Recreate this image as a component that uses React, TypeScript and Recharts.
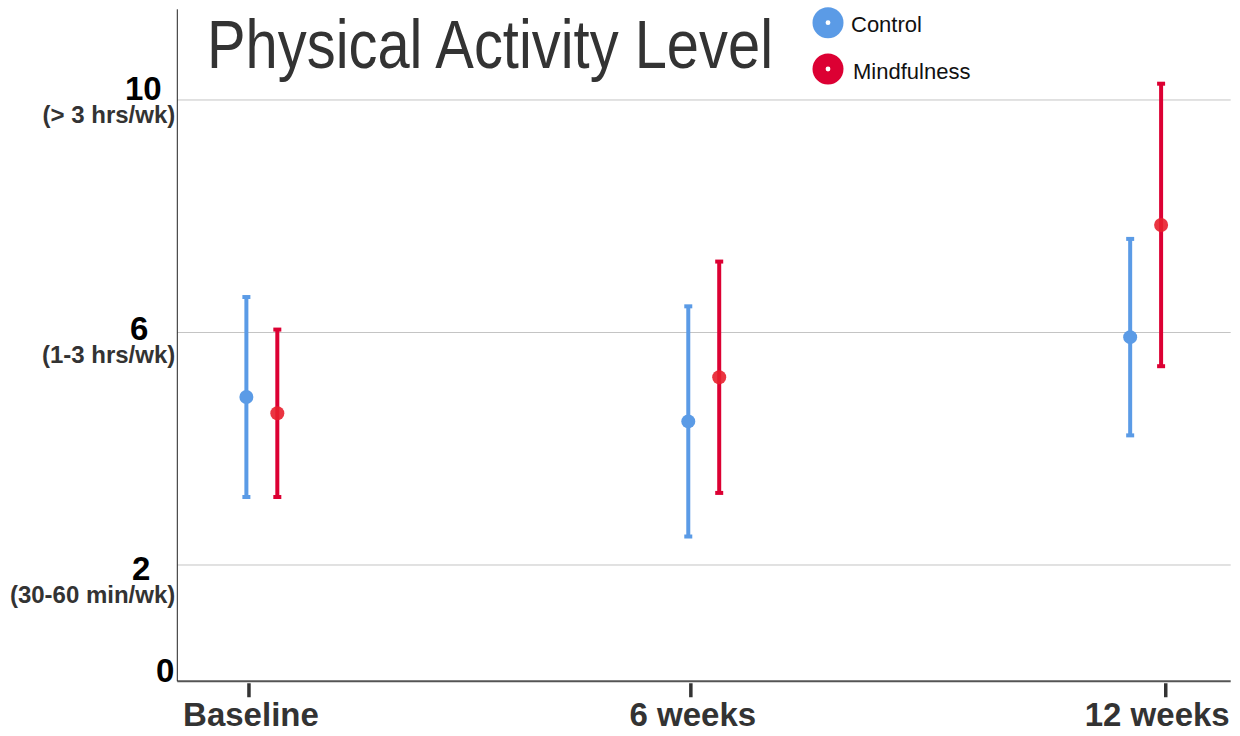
import React from 'react';
import { ScatterChart, Scatter, XAxis, YAxis, CartesianGrid, ErrorBar, Legend, Customized } from 'recharts';

// time points (weeks) and their axis labels
const weeks = [0, 6, 12];
const timeLabels = ['Baseline', '6 weeks', '12 weeks'];

// group means and 95% CI half-widths
const controlMean = [4.89, 4.47, 5.92];
const controlCI = [1.72, 1.98, 1.69];
const mindMean = [4.61, 5.23, 7.85];
const mindCI = [1.44, 1.99, 2.43];

// y axis ticks with their activity descriptions
const yTicks = [0, 2, 6, 10];
const yTickNotes = ['', '(30-60 min/wk)', '(1-3 hrs/wk)', '(> 3 hrs/wk)'];
const gridValues = [2, 6, 10];

const seriesNames = ['Control', 'Mindfulness'];

const BLUE = '#5b9be6';
const RED = '#dc0033';
const FONT = '"Liberation Sans", Arial, sans-serif';

// horizontal dodge so the two groups sit side by side
const CONTROL_DODGE = -0.035;
const MIND_DODGE = 0.385;

// label placement tweaks (px)
const Y_LABEL_NUDGE: Record<number, { dx: number; dy: number }> = {
  0: { dx: -12, dy: 0.5 },
  2: { dx: -36, dy: 15 },
  6: { dx: -38, dy: 8 },
  10: { dx: -34, dy: 0 },
};
const X_TICK_SHIFT = [0, 0, 33];
const X_LABEL_SHIFT = [2, 2, 24.5];

const controlData = weeks.map((w, i) => ({ x: w + CONTROL_DODGE, y: controlMean[i], ci: controlCI[i] }));
const mindData = weeks.map((w, i) => ({ x: w + MIND_DODGE, y: mindMean[i], ci: mindCI[i] }));

const YTick = (props: any) => {
  const { x, y, payload } = props;
  const i = yTicks.indexOf(payload.value);
  const n = Y_LABEL_NUDGE[payload.value] || { dx: -36, dy: 0 };
  return (
    <g>
      <text x={x + n.dx} y={y + n.dy} textAnchor="middle" fontFamily={FONT} fontWeight="bold" fontSize={33} fill="#000">
        {payload.value}
      </text>
      {yTickNotes[i] ? (
        <text x={x - 2} y={y + n.dy + 23} textAnchor="end" fontFamily={FONT} fontWeight="bold" fontSize={24} fill="#333">
          {yTickNotes[i]}
        </text>
      ) : null}
    </g>
  );
};

const XTick = (props: any) => {
  const { x, y, payload } = props;
  const i = weeks.indexOf(payload.value);
  const mx = x + X_TICK_SHIFT[i];
  return (
    <g>
      <line x1={mx} x2={mx} y1={y + 2} y2={y + 16} stroke="#333" strokeWidth={3.5} />
      <text x={x + X_LABEL_SHIFT[i]} y={y + 45} textAnchor="middle" fontFamily={FONT} fontWeight="bold" fontSize={33} fill="#333">
        {timeLabels[i]}
      </text>
    </g>
  );
};

const Dot = (color: string, opacity = 1) => (props: any) => (
  <circle cx={props.cx} cy={props.cy} r={7} fill={color} fillOpacity={opacity} />
);

const renderLegend = () => (
  <svg width={200} height={92}>
    {seriesNames.map((name, i) => {
      const cy = i === 0 ? 22.7 : 69;
      const color = i === 0 ? BLUE : RED;
      return (
        <g key={name}>
          <circle cx={28} cy={cy} r={15.5} fill={color} />
          <circle cx={28} cy={cy} r={2.4} fill="#fff" />
          <text x={i === 0 ? 51 : 53} y={cy + 9.5} fontFamily={FONT} fontSize={22} fill="#111">
            {name}
          </text>
        </g>
      );
    })}
  </svg>
);

const Title = () => (
  <text
    x={207}
    y={67.7}
    fontFamily={FONT}
    fontSize={68}
    fill="#333"
    textLength={566}
    lengthAdjust="spacingAndGlyphs"
  >
    Physical Activity Level
  </text>
);

export default function App() {
  return (
    <div style={{ position: 'absolute', left: 0, top: 0, background: '#fff' }}>
      <ScatterChart width={1240} height={736} margin={{ top: 9.3, right: 9.3, bottom: 0, left: 0 }}>
        <CartesianGrid
          horizontal
          vertical={false}
          horizontalValues={gridValues}
          stroke="#c4c4c4"
          strokeWidth={1}
        />
        <XAxis
          type="number"
          dataKey="x"
          domain={[-0.973, 13.33]}
          ticks={weeks}
          allowDataOverflow
          height={54.75}
          axisLine={{ stroke: '#555', strokeWidth: 2 }}
          tickLine={false}
          tickSize={0}
          tickMargin={0}
          tick={<XTick />}
        />
        <YAxis
          type="number"
          dataKey="y"
          domain={[0, 11.56]}
          ticks={yTicks}
          allowDataOverflow
          width={177.3}
          axisLine={{ stroke: '#222', strokeWidth: 1 }}
          tickLine={false}
          tickSize={0}
          tickMargin={0}
          tick={<YTick />}
        />
        <Legend
          layout="vertical"
          align="center"
          verticalAlign="middle"
          wrapperStyle={{ left: 800, top: 0, width: 200, height: 92 }}
          content={renderLegend}
        />
        <Scatter name={seriesNames[0]} data={controlData} fill={BLUE} shape={Dot(BLUE)} isAnimationActive={false}>
          <ErrorBar dataKey="ci" direction="y" width={4} strokeWidth={4} stroke={BLUE} isAnimationActive={false} />
        </Scatter>
        <Scatter name={seriesNames[1]} data={mindData} fill={RED} shape={Dot('#e81f2c', 0.9)} isAnimationActive={false}>
          <ErrorBar dataKey="ci" direction="y" width={4} strokeWidth={4} stroke={RED} isAnimationActive={false} />
        </Scatter>
        <Customized component={Title} />
      </ScatterChart>
    </div>
  );
}
